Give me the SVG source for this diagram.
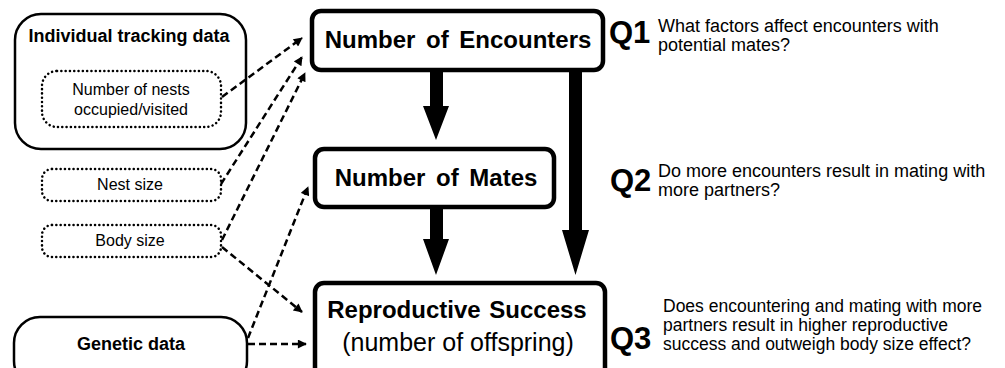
<svg xmlns="http://www.w3.org/2000/svg" width="1005" height="368" viewBox="0 0 1005 368">
<defs>
<style>
text{font-family:"Liberation Sans",Arial,sans-serif;fill:#000}
.src{fill:#fff;stroke:#000;stroke-width:2.5}
.dot{fill:#fff;stroke:#000;stroke-width:2.5;stroke-dasharray:0.1 4.2;stroke-linecap:round}
.main{fill:#fff;stroke:#000;stroke-width:4.5}
.b{font-weight:bold}
.dash{fill:none;stroke:#000;stroke-width:2.5;stroke-dasharray:7 4;marker-end:url(#ah)}
.thick{fill:#000}
.mt{font-size:24px;font-weight:bold;text-anchor:middle}
.q{font-size:31px;font-weight:bold}
.qt{font-size:18px}
.qt3{font-size:17.5px}
.sm{font-size:16px;text-anchor:middle}
</style>
<marker id="ah" viewBox="0 0 10 10" refX="9" refY="5" markerWidth="11" markerHeight="9" markerUnits="userSpaceOnUse" orient="auto">
<path d="M0,0 L10,5 L0,10 z" fill="#000"/>
</marker>
</defs>
<rect width="1005" height="368" fill="#fff"/>

<g id="tracking">
<rect class="src" x="15" y="14" width="231" height="135" rx="26"/>
<text class="b" x="129" y="42" font-size="18" text-anchor="middle">Individual tracking data</text>
</g>
<g id="nests">
<rect class="dot" x="42" y="71" width="179" height="56" rx="15"/>
<text class="sm" x="131" y="95">Number of nests</text>
<text class="sm" x="131" y="115">occupied/visited</text>
</g>
<g id="nestsize">
<rect class="dot" x="42" y="169" width="179" height="32" rx="10"/>
<text class="sm" x="130" y="190">Nest size</text>
</g>
<g id="bodysize">
<rect class="dot" x="42" y="225" width="179" height="32" rx="10"/>
<text class="sm" x="130" y="246">Body size</text>
</g>
<g id="genetic">
<rect class="src" x="14" y="317" width="233" height="70" rx="26"/>
<text class="b" x="131" y="350" font-size="18" text-anchor="middle">Genetic data</text>
</g>

<g id="encounters">
<rect class="main" x="312" y="11" width="291" height="59" rx="9"/>
<text class="mt" x="458" y="48" word-spacing="4">Number of Encounters</text>
</g>
<g id="mates">
<rect class="main" x="315" y="149" width="239" height="58" rx="9"/>
<text class="mt" x="436" y="186" word-spacing="4">Number of Mates</text>
</g>
<g id="repro">
<rect class="main" x="315" y="283" width="290" height="100" rx="9"/>
<text class="mt" x="457" y="318" word-spacing="2">Reproductive Success</text>
<text x="458" y="351" font-size="25" text-anchor="middle">(number of offspring)</text>
</g>

<g id="connectors">
<polygon class="thick" points="430,70 443,70 443,106 449,106 436,140 423,106 430,106"/>
<polygon class="thick" points="430,207 443,207 443,239 449,239 436,275 423,239 430,239"/>
<polygon class="thick" points="569,70 582,70 582,230 589,230 575.5,275 562,230 569,230"/>
<path class="dash" d="M222,97 L302,38"/>
<path class="dash" d="M221,184 L302,57"/>
<path class="dash" d="M222,240 L305,73"/>
<path class="dash" d="M222,247 L302,312"/>
<path class="dash" d="M248,338 L308,187"/>
<path class="dash" d="M248,344 L306,344"/>
</g>

<g id="q1">
<text class="q" x="609" y="43">Q1</text>
<text class="qt" x="658" y="32">What factors affect encounters with</text>
<text class="qt" x="658" y="51">potential mates?</text>
</g>
<g id="q2">
<text class="q" x="610" y="191">Q2</text>
<text class="qt" x="658" y="177">Do more encounters result in mating with</text>
<text class="qt" x="658" y="196">more partners?</text>
</g>
<g id="q3">
<text class="q" x="610" y="349">Q3</text>
<text class="qt3" x="663" y="312">Does encountering and mating with more</text>
<text class="qt3" x="663" y="331">partners result in higher reproductive</text>
<text class="qt3" x="663" y="350">success and outweigh body size effect?</text>
</g>
</svg>
